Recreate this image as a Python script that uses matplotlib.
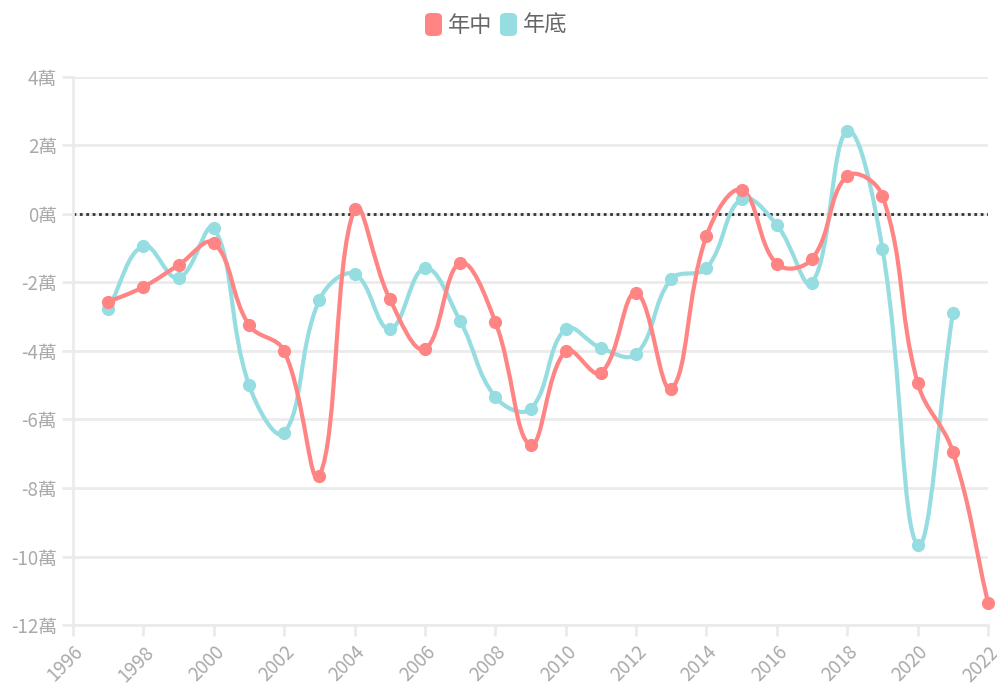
import numpy as np
import matplotlib.pyplot as plt
from matplotlib.path import Path
from matplotlib.patches import PathPatch, FancyBboxPatch

plt.rcParams['font.family'] = ['Noto Sans CJK TC', 'DejaVu Sans']

years = list(range(1997, 2023))
mid_year = [-2.57, -2.13, -1.49, -0.85, -3.24, -4.00, -7.65, 0.15, -2.48, -3.94,
            -1.43, -3.15, -6.74, -4.00, -4.64, -2.30, -5.10, -0.64, 0.70, -1.46,
            -1.31, 1.11, 0.53, -4.93, -6.94, -11.35]
year_end = [-2.77, -0.93, -1.87, -0.41, -4.99, -6.39, -2.51, -1.75, -3.36, -1.58,
            -3.12, -5.34, -5.69, -3.36, -3.91, -4.09, -1.90, -1.58, 0.44, -0.32,
            -2.01, 2.42, -1.02, -9.66, -2.89]
labels = ['年中', '年底']
colors = ['#FF8585', '#96DDE2']


def spline_path(x, y, t=0.4, sx=35.2, sy=34.3):
    # chart.js style tension spline, distances measured in pixel-ish units
    x = np.asarray(x, float)
    y = np.asarray(y, float)
    n = len(x)
    verts = [(x[0], y[0])]
    codes = [Path.MOVETO]
    cp_prev, cp_next = [], []
    for i in range(n):
        p0 = (x[max(i - 1, 0)], y[max(i - 1, 0)])
        p1 = (x[i], y[i])
        p2 = (x[min(i + 1, n - 1)], y[min(i + 1, n - 1)])
        d01 = np.hypot((p1[0] - p0[0]) * sx, (p1[1] - p0[1]) * sy)
        d12 = np.hypot((p2[0] - p1[0]) * sx, (p2[1] - p1[1]) * sy)
        tot = d01 + d12
        s01 = d01 / tot if tot else 0
        s12 = d12 / tot if tot else 0
        fa, fb = t * s01, t * s12
        cp_prev.append((p1[0] - fa * (p2[0] - p0[0]), p1[1] - fa * (p2[1] - p0[1])))
        cp_next.append((p1[0] + fb * (p2[0] - p0[0]), p1[1] + fb * (p2[1] - p0[1])))
    for i in range(1, n):
        verts += [cp_next[i - 1], cp_prev[i], (x[i], y[i])]
        codes += [Path.CURVE4] * 3
    return Path(verts, codes)


fig = plt.figure(figsize=(9.97, 6.86), dpi=100)
ax = fig.add_axes([0.0732, 0.0889, 0.9178, 0.7989])
ax.set_xlim(1996, 2022)
ax.set_ylim(-12, 4)

series = [(year_end, colors[1]), (mid_year, colors[0])]
for vals, c in series:
    xs = years[:len(vals)]
    ax.add_patch(PathPatch(spline_path(xs, vals), fill=False, edgecolor=c,
                           lw=3, capstyle='round', joinstyle='round', zorder=3,
                           clip_on=False))
    ax.plot(xs, vals, 'o', color=c, markersize=8.5, zorder=4, clip_on=False)

ax.axhline(0, color='#333333', lw=2, linestyle=(0, (1, 1.3)), zorder=2)

ax.set_yticks(range(-12, 5, 2))
ax.set_yticklabels([f'{v}萬' for v in range(-12, 5, 2)])
ax.set_xticks(range(1996, 2023, 2))
ax.set_xticklabels([str(v) for v in range(1996, 2023, 2)], rotation=45,
                   ha='right', rotation_mode='anchor')
ax.grid(axis='y', color='#ebebeb', lw=2)
ax.set_axisbelow(True)
for s in ['top', 'right']:
    ax.spines[s].set_visible(False)
for s in ['left', 'bottom']:
    ax.spines[s].set_color('#ebebeb')
    ax.spines[s].set_linewidth(2)
ax.tick_params(colors='#ebebeb', width=2, length=8, labelcolor='#aaaaaa',
               labelsize=13.5)
ax.tick_params(axis='x', pad=4)

# legend
for lx, c, txt in [(425, colors[0], labels[0]), (500, colors[1], labels[1])]:
    fig.patches.append(FancyBboxPatch((lx / 997, 1 - 36 / 686), 17 / 997, 23 / 686,
                                      boxstyle='round,pad=0,rounding_size=0.006',
                                      transform=fig.transFigure, facecolor=c,
                                      edgecolor='none'))
    fig.text((lx + 23) / 997, 1 - 25 / 686, txt, fontsize=16, color='#666666',
             va='center', ha='left')

fig.savefig('out.png', dpi=100)
